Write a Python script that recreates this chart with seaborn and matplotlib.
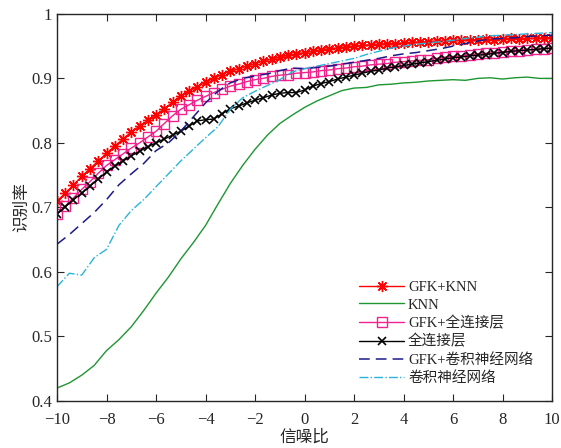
import numpy as np
import matplotlib
matplotlib.use("Agg")
import matplotlib.pyplot as plt
import seaborn as sb

# eixo x (dB)
snr_fine = np.linspace(-10, 10, 61)
snr = np.linspace(-10, 10, 41)

gfk_knn = [0.710, 0.722, 0.735, 0.748, 0.760, 0.772, 0.784, 0.795, 0.806,
           0.817, 0.826, 0.835, 0.843, 0.853, 0.863, 0.873, 0.880, 0.887,
           0.894, 0.900, 0.906, 0.911, 0.915, 0.919, 0.923, 0.927, 0.930,
           0.933, 0.936, 0.938, 0.940, 0.942, 0.944, 0.946, 0.947, 0.949,
           0.950, 0.951, 0.952, 0.953, 0.954, 0.954, 0.955, 0.956, 0.956,
           0.957, 0.958, 0.958, 0.959, 0.959, 0.960, 0.960, 0.961, 0.960,
           0.961, 0.962, 0.961, 0.962, 0.962, 0.963, 0.963]

gfk_fc = [0.690, 0.702, 0.715, 0.728, 0.740, 0.753, 0.765, 0.774, 0.783,
          0.792, 0.800, 0.809, 0.818, 0.830, 0.842, 0.852, 0.859, 0.866,
          0.872, 0.878, 0.883, 0.888, 0.891, 0.895, 0.898, 0.900, 0.903,
          0.905, 0.906, 0.908, 0.909, 0.910, 0.912, 0.913, 0.915, 0.916,
          0.918, 0.919, 0.921, 0.922, 0.923, 0.925, 0.926, 0.927, 0.928,
          0.929, 0.931, 0.933, 0.934, 0.935, 0.937, 0.938, 0.939, 0.940,
          0.941, 0.942, 0.943, 0.944, 0.945, 0.946, 0.947]

fc = [0.690, 0.701, 0.712, 0.722, 0.733, 0.744, 0.755, 0.764, 0.772,
      0.780, 0.787, 0.794, 0.800, 0.806, 0.812, 0.818, 0.826, 0.834,
      0.836, 0.837, 0.845, 0.853, 0.857, 0.862, 0.866, 0.870, 0.874,
      0.877, 0.878, 0.878, 0.882, 0.888, 0.892, 0.895, 0.899, 0.902,
      0.905, 0.908, 0.911, 0.913, 0.916, 0.918, 0.920, 0.922, 0.924,
      0.926, 0.928, 0.930, 0.932, 0.933, 0.935, 0.936, 0.937, 0.939,
      0.940, 0.942, 0.943, 0.944, 0.945, 0.946, 0.947]

knn = [0.420, 0.428, 0.440, 0.455, 0.478, 0.495, 0.515, 0.540, 0.567, 0.592,
       0.620, 0.645, 0.672, 0.705, 0.737, 0.765, 0.790, 0.812, 0.830, 0.843,
       0.855, 0.865, 0.873, 0.881, 0.885, 0.886, 0.890, 0.891, 0.893, 0.894,
       0.896, 0.897, 0.898, 0.897, 0.900, 0.901, 0.899, 0.901, 0.902, 0.900,
       0.900]

gfk_cnn = [0.643, 0.658, 0.675, 0.692, 0.712, 0.735, 0.752, 0.768, 0.788, 0.800,
           0.818, 0.840, 0.862, 0.880, 0.893, 0.900, 0.904, 0.907, 0.912, 0.916,
           0.915, 0.917, 0.919, 0.922, 0.925, 0.928, 0.931, 0.935, 0.938, 0.940,
           0.943, 0.946, 0.950, 0.954, 0.958, 0.961, 0.962, 0.963, 0.965, 0.966,
           0.967]

cnn = [0.577, 0.598, 0.595, 0.622, 0.635, 0.672, 0.695, 0.712, 0.732, 0.752,
       0.772, 0.790, 0.808, 0.825, 0.852, 0.870, 0.880, 0.889, 0.898, 0.910,
       0.915, 0.919, 0.923, 0.927, 0.931, 0.937, 0.942, 0.947, 0.950, 0.953,
       0.955, 0.957, 0.959, 0.962, 0.964, 0.966, 0.967, 0.968, 0.969, 0.970,
       0.971]

labels = ["GFK+KNN", "KNN", "GFK+全连接层", "全连接层", "GFK+卷积神经网络", "卷积神经网络"]

sb.set_style("ticks")
plt.rcParams["font.family"] = ["Liberation Serif", "Noto Sans CJK SC"]
plt.rcParams["axes.unicode_minus"] = True

fig = plt.figure(figsize=(5.61, 4.48), dpi=100)
ax = fig.add_axes([0.1016, 0.105, 0.8824, 0.864])

red = "#ff0000"
pink = "#f0238c"
# asterisco estilo matlab
sb.lineplot(x=snr_fine, y=gfk_knn, ax=ax, color=red, lw=1.0,
            marker=(8, 2, 0), markersize=8, markeredgewidth=1.0,
            markeredgecolor=red, label=labels[0])
sb.lineplot(x=snr, y=knn, ax=ax, color="#1e9632", lw=1.0, label=labels[1])
sb.lineplot(x=snr_fine, y=gfk_fc, ax=ax, color=pink, lw=1.0,
            marker="s", markersize=7, markerfacecolor="none",
            markeredgecolor=pink, markeredgewidth=1.0, label=labels[2])
sb.lineplot(x=snr_fine, y=fc, ax=ax, color="black", lw=1.0,
            marker="x", markersize=6, markeredgewidth=1.2,
            markeredgecolor="black", label=labels[3])
sb.lineplot(x=snr, y=gfk_cnn, ax=ax, color="#1c1a8a", lw=1.1, label=labels[4])
sb.lineplot(x=snr, y=cnn, ax=ax, color="#2ab4dc", lw=1.0, label=labels[5])
ax.lines[4].set_dashes([7, 4])
ax.lines[5].set_linestyle("-.")

ax.set_xlim(-10, 10)
ax.set_ylim(0.4, 1)
ax.set_xticks(range(-10, 11, 2))
ax.set_yticks([0.4, 0.5, 0.6, 0.7, 0.8, 0.9, 1])
ax.set_yticklabels(["0.4", "0.5", "0.6", "0.7", "0.8", "0.9", "1"])
ax.tick_params(direction="in", top=True, right=True, labelsize=12,
               length=5, width=0.8, colors="#262626")
ax.tick_params(axis="x", pad=8)
for s in ax.spines.values():
    s.set_linewidth(1.0)
    s.set_color("#262626")
ax.set_xlabel("信噪比", fontsize=12, labelpad=1)
ax.set_ylabel("识别率", fontsize=12, labelpad=1)

leg = ax.legend(loc="lower right", frameon=False, fontsize=10.5,
                handlelength=3.1, numpoints=1, labelspacing=0.3,
                handletextpad=0.27, borderaxespad=0,
                bbox_to_anchor=(0.974, 0.026))
leg.get_lines()[4].set_dashes([7, 4])
leg.get_lines()[5].set_linestyle("-.")

plt.savefig("out.png", dpi=100)
